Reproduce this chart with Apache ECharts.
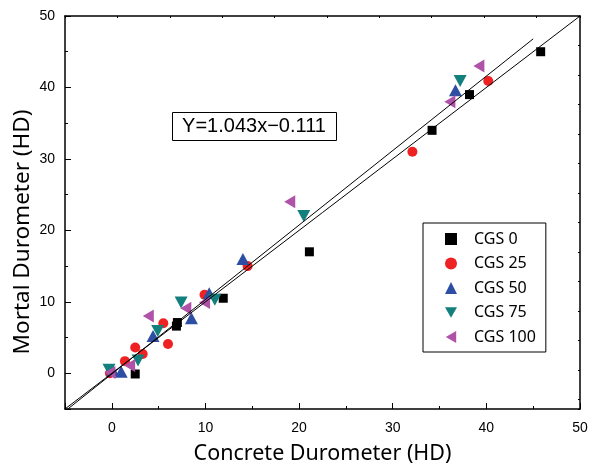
<!DOCTYPE html>
<html>
<head>
<meta charset="utf-8">
<script src="https://cdn.jsdelivr.net/npm/echarts@6/dist/echarts.min.js"></script>
<style>html,body{margin:0;padding:0;background:#fff}#c{width:593px;height:470px}</style>
</head>
<body>
<div id="c"></div>
<script>
// ---- data ----
const seriesNames = ['CGS 0', 'CGS 25', 'CGS 50', 'CGS 75', 'CGS 100'];
const cgs0 = [[45.8,45],[38.2,39],[34.2,34],[21.1,17],[11.9,10.5],[6.9,6.6],[7.0,7.1],[2.5,-0.1]];
const cgs25 = [[40.2,40.9],[32.1,31],[14.5,15],[9.9,11],[5.5,7],[6.0,4.1],[2.5,3.6],[3.3,2.7],[1.4,1.7],[-0.2,0]];
const cgs50 = [[36.7,39.6],[14.0,16],[10.4,11.2],[8.5,7.7],[4.4,5.2],[1.0,0.2],[0.1,0.4]];
const cgs75 = [[37.2,40.9],[20.5,22],[7.4,9.9],[11.0,10.3],[4.9,5.9],[2.8,1.8],[-0.3,0.5]];
const cgs100 = [[39.2,43],[36.1,38],[19.0,24],[3.9,8],[7.9,9.1],[9.9,9.9],[1.9,1.1],[-0.2,0.1]];
const identityLine = [[-5,-5],[50,50]];
const fitLine = [[-4.7,-5.0],[45,46.8]];
const fitText = 'Y=1.043x\u22120.111';
const xTitle = 'Concrete Durometer (HD)';
const yTitle = 'Mortal Durometer (HD)';

const chart = echarts.init(document.getElementById('c'));
const black = '#000';
const tickFont = {fontSize: 14, color: black, fontFamily: 'Liberation Sans, Arial, sans-serif'};
const titleFamily = '"Noto Sans", sans-serif';
const downTri = 'path://M0,0 L10,0 L5,8.66 Z';
const leftTri = 'path://M0,5 L8.66,0 L8.66,10 Z';

const mk = (name, data, symbol, size, color) => ({
  name, type: 'scatter', data, symbol, symbolSize: size,
  itemStyle: {color, opacity: 1}, z: 2
});
const frameLine = {show: true, onZero: false, lineStyle: {color: black, width: 1.5}};

chart.setOption({
  animation: false,
  backgroundColor: '#fff',
  grid: {left: 65, right: 13, top: 16, bottom: 58},
  xAxis: [
    {type: 'value', position: 'bottom', min: -5, max: 50, splitNumber: 5,
     name: xTitle, nameLocation: 'middle', nameGap: 34,
     nameTextStyle: {fontSize: 21.5, color: black, fontFamily: titleFamily},
     axisLine: frameLine,
     axisTick: {inside: true, length: 6, lineStyle: {color: black, width: 1}},
     axisLabel: {...tickFont, margin: 12, formatter: v => (v % 10 === 0 ? String(v) : '')},
     splitLine: {show: false}},
    {type: 'value', position: 'bottom', min: -5, max: 50, interval: 5,
     axisLine: {show: false, onZero: false}, axisTick: {inside: true, length: 3, lineStyle: {color: black}},
     axisLabel: {show: false}, splitLine: {show: false}},
    {type: 'value', position: 'top', min: 0, max: 9.83, interval: 1,
     axisLine: frameLine,
     axisTick: {inside: true, length: 2, lineStyle: {color: black}},
     axisLabel: {show: false}, splitLine: {show: false}}
  ],
  yAxis: [
    {type: 'value', position: 'left', min: -5, max: 50, splitNumber: 5,
     axisLine: frameLine,
     axisTick: {inside: true, length: 6, lineStyle: {color: black, width: 1}},
     axisLabel: {...tickFont, margin: 10, formatter: v => (v % 10 === 0 ? String(v) : '')},
     splitLine: {show: false}},
    {type: 'value', position: 'left', min: -5, max: 50, interval: 5,
     axisLine: {show: false, onZero: false}, axisTick: {inside: true, length: 3, lineStyle: {color: black}},
     axisLabel: {show: false}, splitLine: {show: false}},
    {type: 'value', position: 'right', min: 0, max: 13.33, interval: 1, inverse: true,
     axisLine: frameLine,
     axisTick: {inside: true, length: 2, lineStyle: {color: black}},
     axisLabel: {show: false}, splitLine: {show: false}}
  ],
  legend: {
    data: seriesNames, orient: 'vertical', left: 423, top: 223,
    borderColor: black, borderWidth: 1, borderRadius: 0,
    padding: [8, 10, 7, 22], itemGap: 8.5, itemWidth: 12, itemHeight: 12,
    textStyle: {fontSize: 16, lineHeight: 16, color: black, fontFamily: titleFamily, padding: [0, 0, 0, 12]}
  },
  graphic: [
    {type: 'text', x: 23, y: 232, rotation: Math.PI / 2, z: 11,
     style: {text: yTitle, font: '22.5px "Noto Sans", sans-serif', fill: black,
             textAlign: 'center', textVerticalAlign: 'middle'}},
    {type: 'rect', left: 172, top: 112, shape: {width: 164, height: 28},
     style: {fill: '#fff', stroke: black, lineWidth: 1}, z: 10},
    {type: 'text', x: 254, y: 126, z: 11,
     style: {text: fitText, font: '20px "Liberation Sans", Arial, sans-serif', fill: black,
             textAlign: 'center', textVerticalAlign: 'middle'}}
  ],
  series: [
    mk(seriesNames[0], cgs0, 'rect', 9, '#000000'),
    mk(seriesNames[1], cgs25, 'circle', 10, '#ee2222'),
    mk(seriesNames[2], cgs50, 'triangle', [13, 12], '#2d4ea3'),
    mk(seriesNames[3], cgs75, downTri, [13, 12], '#14807d'),
    mk(seriesNames[4], cgs100, leftTri, [11, 13], '#b052a8'),
    {type: 'line', data: identityLine, symbol: 'none', silent: true, z: 3,
     lineStyle: {color: black, width: 1}},
    {type: 'line', data: fitLine, symbol: 'none', silent: true, z: 3,
     lineStyle: {color: black, width: 1}}
  ]
});
</script>
</body>
</html>
